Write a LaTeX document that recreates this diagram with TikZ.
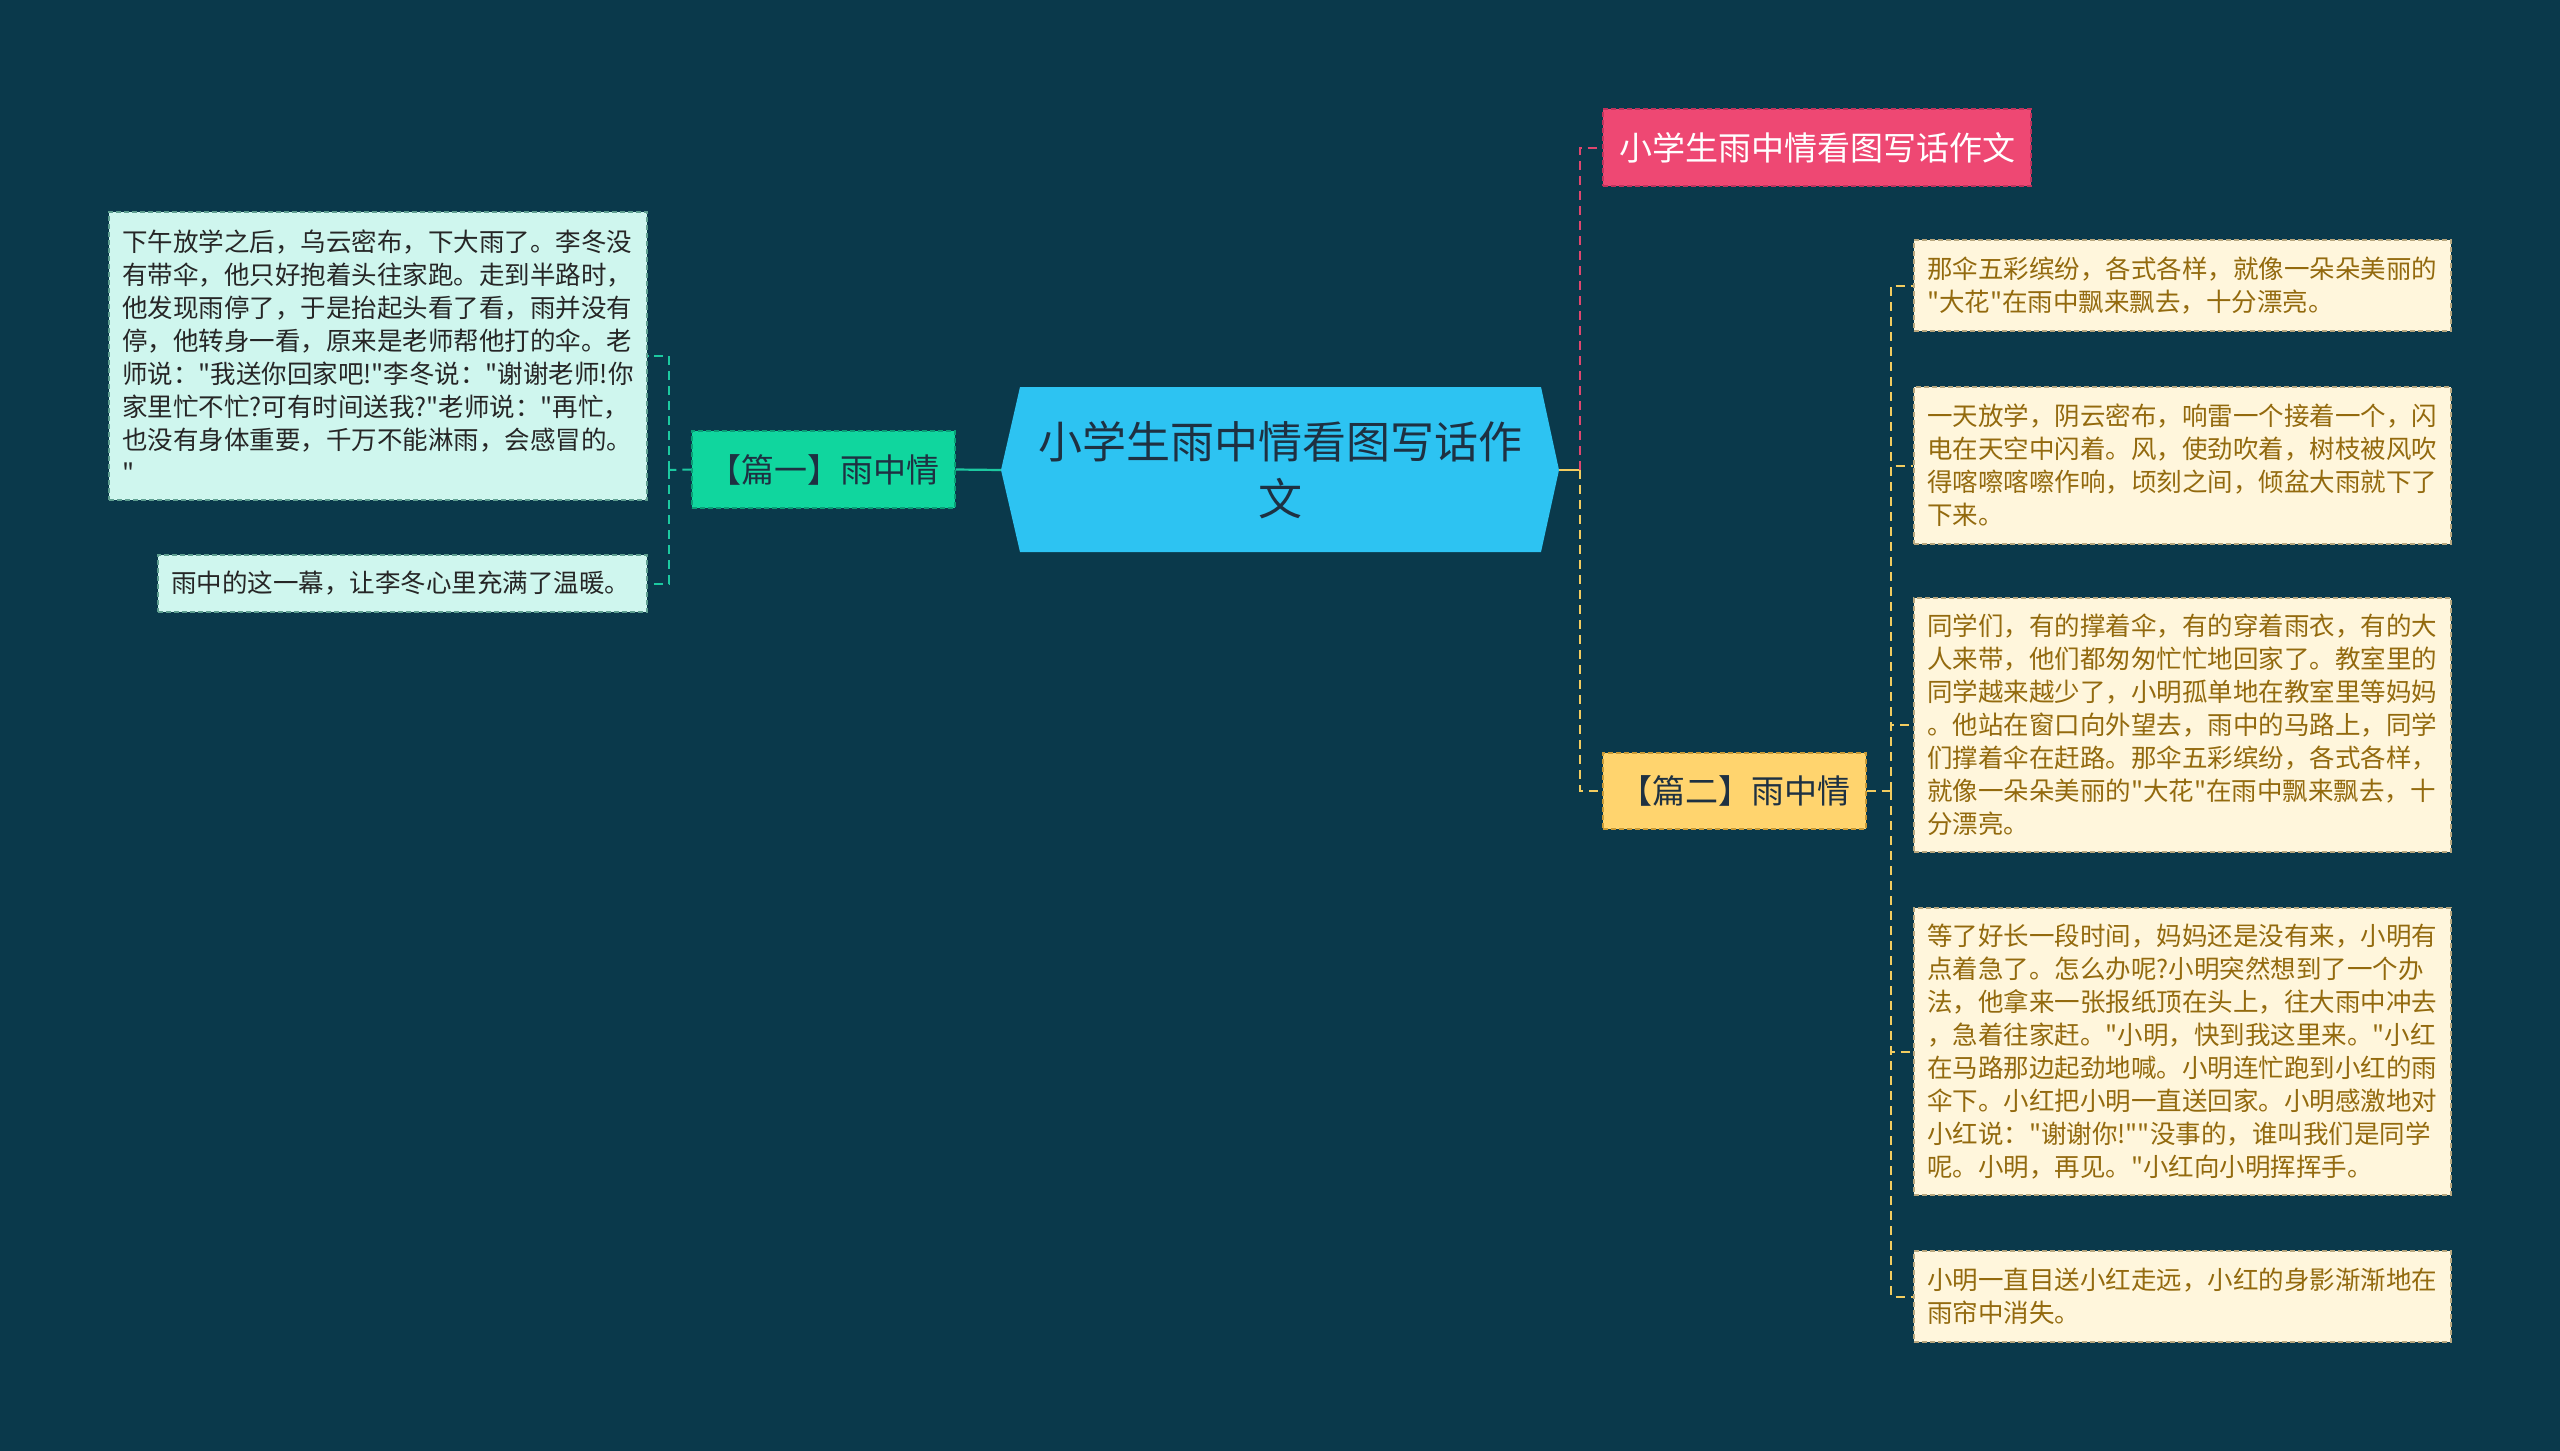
\documentclass[tikz,border=0pt]{standalone}
\usepackage{fontspec}
\newfontfamily\cjkfont{Noto Sans CJK SC}
\definecolor{bgc}{HTML}{0A394B}
\definecolor{rootc}{HTML}{2DC3F2}
\definecolor{roottext}{HTML}{1E3142}
\definecolor{greenc}{HTML}{10D69E}
\definecolor{greenb}{HTML}{0A9E76}
\definecolor{mintc}{HTML}{CFF6EE}
\definecolor{mintb}{HTML}{5E9E90}
\definecolor{pinkc}{HTML}{EE4873}
\definecolor{pinkb}{HTML}{C0325C}
\definecolor{yelc}{HTML}{FFD46E}
\definecolor{yelb}{HTML}{C99A36}
\definecolor{creamc}{HTML}{FFF6DC}
\definecolor{creamb}{HTML}{B8A77E}
\definecolor{browntext}{HTML}{936A0E}
\definecolor{tealline}{HTML}{1CC9A0}
\definecolor{pinkline}{HTML}{E0466E}
\definecolor{yelline}{HTML}{F2CC60}
\begin{document}
\begin{tikzpicture}[x=1pt,y=-1pt,
  boxbase/.style={rectangle, inner xsep=13pt, inner ysep=0pt, line width=1.4pt, dash pattern=on 5pt off 3pt},
  textbox/.style={boxbase, align=left, font=\cjkfont\fontsize{25.5}{33}\selectfont},
  mintbox/.style={textbox, fill=mintc, draw=mintb, text=black!85},
  creambox/.style={textbox, fill=creamc, draw=creamb, text=browntext},
  topicbox/.style={boxbase, align=center, font=\cjkfont\fontsize{33}{40}\selectfont},
  conn/.style={line width=2.2pt},
  dconn/.style={line width=2pt, dash pattern=on 9pt off 6pt}
]
\fill[bgc] (0,0) rectangle (2560,1451);

% root hexagon
\coordinate (rootL) at (1001,470);
\coordinate (rootR) at (1559,470);
\fill[rootc] (rootL) -- (1020,387) -- (1541,387) -- (rootR) -- (1541,552) -- (1020,552) -- cycle;
\node[align=center, text=roottext, font=\cjkfont\fontsize{44}{57}\selectfont] (root) at (1280,470) {小学生雨中情看图写话作\\文};

% left branch
\node[topicbox, fill=greenc, draw=greenb, text=roottext, minimum width=263pt, minimum height=77pt] (P1) at (823.5,469.5) {【篇一】雨中情};
\node[mintbox, minimum width=538pt, minimum height=288pt, text width=512pt] (L1) at (378,356) {下午放学之后，乌云密布，下大雨了。李冬没\\有带伞，他只好抱着头往家跑。走到半路时，\\他发现雨停了，于是抬起头看了看，雨并没有\\停，他转身一看，原来是老师帮他打的伞。老\\师说："我送你回家吧!"李冬说："谢谢老师!你\\家里忙不忙?可有时间送我?"老师说："再忙，\\也没有身体重要，千万不能淋雨，会感冒的。\\"};
\node[mintbox, minimum width=489pt, minimum height=57pt, text width=463pt] (L2) at (402.5,583.5) {雨中的这一幕，让李冬心里充满了温暖。};

\coordinate (jL) at (669,470);
\draw[conn, tealline] (rootL) -- (P1.east);
\draw[dconn, tealline] (P1.west) -- (jL);
\draw[dconn, tealline] (jL) |- (L1.east);
\draw[dconn, tealline] (jL) |- (L2.east);

% right branch
\node[topicbox, fill=pinkc, draw=pinkb, text=white, minimum width=428pt, minimum height=77pt] (T) at (1817,147.5) {小学生雨中情看图写话作文};
\node[topicbox, fill=yelc, draw=yelb, text=roottext, minimum width=263pt, minimum height=76pt] (P2) at (1734.5,791) {【篇二】雨中情};

\coordinate (jR) at (1580,470);
\draw[conn, yelline] (rootR) -- (jR);
\draw[dconn, pinkline] (jR) |- (T.west);
\draw[dconn, yelline] (jR) |- (P2.west);

\node[creambox, minimum width=537pt, minimum height=91pt, text width=511pt] (B1) at (2182.5,285.5) {那伞五彩缤纷，各式各样，就像一朵朵美丽的\\"大花"在雨中飘来飘去，十分漂亮。};
\node[creambox, minimum width=537pt, minimum height=157pt, text width=511pt] (B2) at (2182.5,465.5) {一天放学，阴云密布，响雷一个接着一个，闪\\电在天空中闪着。风，使劲吹着，树枝被风吹\\得喀嚓喀嚓作响，顷刻之间，倾盆大雨就下了\\下来。};
\node[creambox, minimum width=537pt, minimum height=254pt, text width=511pt] (B3) at (2182.5,725) {同学们，有的撑着伞，有的穿着雨衣，有的大\\人来带，他们都匆匆忙忙地回家了。教室里的\\同学越来越少了，小明孤单地在教室里等妈妈\\。他站在窗口向外望去，雨中的马路上，同学\\们撑着伞在赶路。那伞五彩缤纷，各式各样，\\就像一朵朵美丽的"大花"在雨中飘来飘去，十\\分漂亮。};
\node[creambox, minimum width=537pt, minimum height=287pt, text width=511pt] (B4) at (2182.5,1051.5) {等了好长一段时间，妈妈还是没有来，小明有\\点着急了。怎么办呢?小明突然想到了一个办\\法，他拿来一张报纸顶在头上，往大雨中冲去\\，急着往家赶。"小明，快到我这里来。"小红\\在马路那边起劲地喊。小明连忙跑到小红的雨\\伞下。小红把小明一直送回家。小明感激地对\\小红说："谢谢你!""没事的，谁叫我们是同学\\呢。小明，再见。"小红向小明挥挥手。};
\node[creambox, minimum width=537pt, minimum height=91pt, text width=511pt] (B5) at (2182.5,1296.5) {小明一直目送小红走远，小红的身影渐渐地在\\雨帘中消失。};

\coordinate (jR2) at (1891,791);
\draw[dconn, yelline] (P2.east) -- (jR2);
\foreach \b in {B1,B2,B3,B4,B5} {
  \draw[dconn, yelline] (jR2) |- (\b.west);
}
\end{tikzpicture}
\end{document}
